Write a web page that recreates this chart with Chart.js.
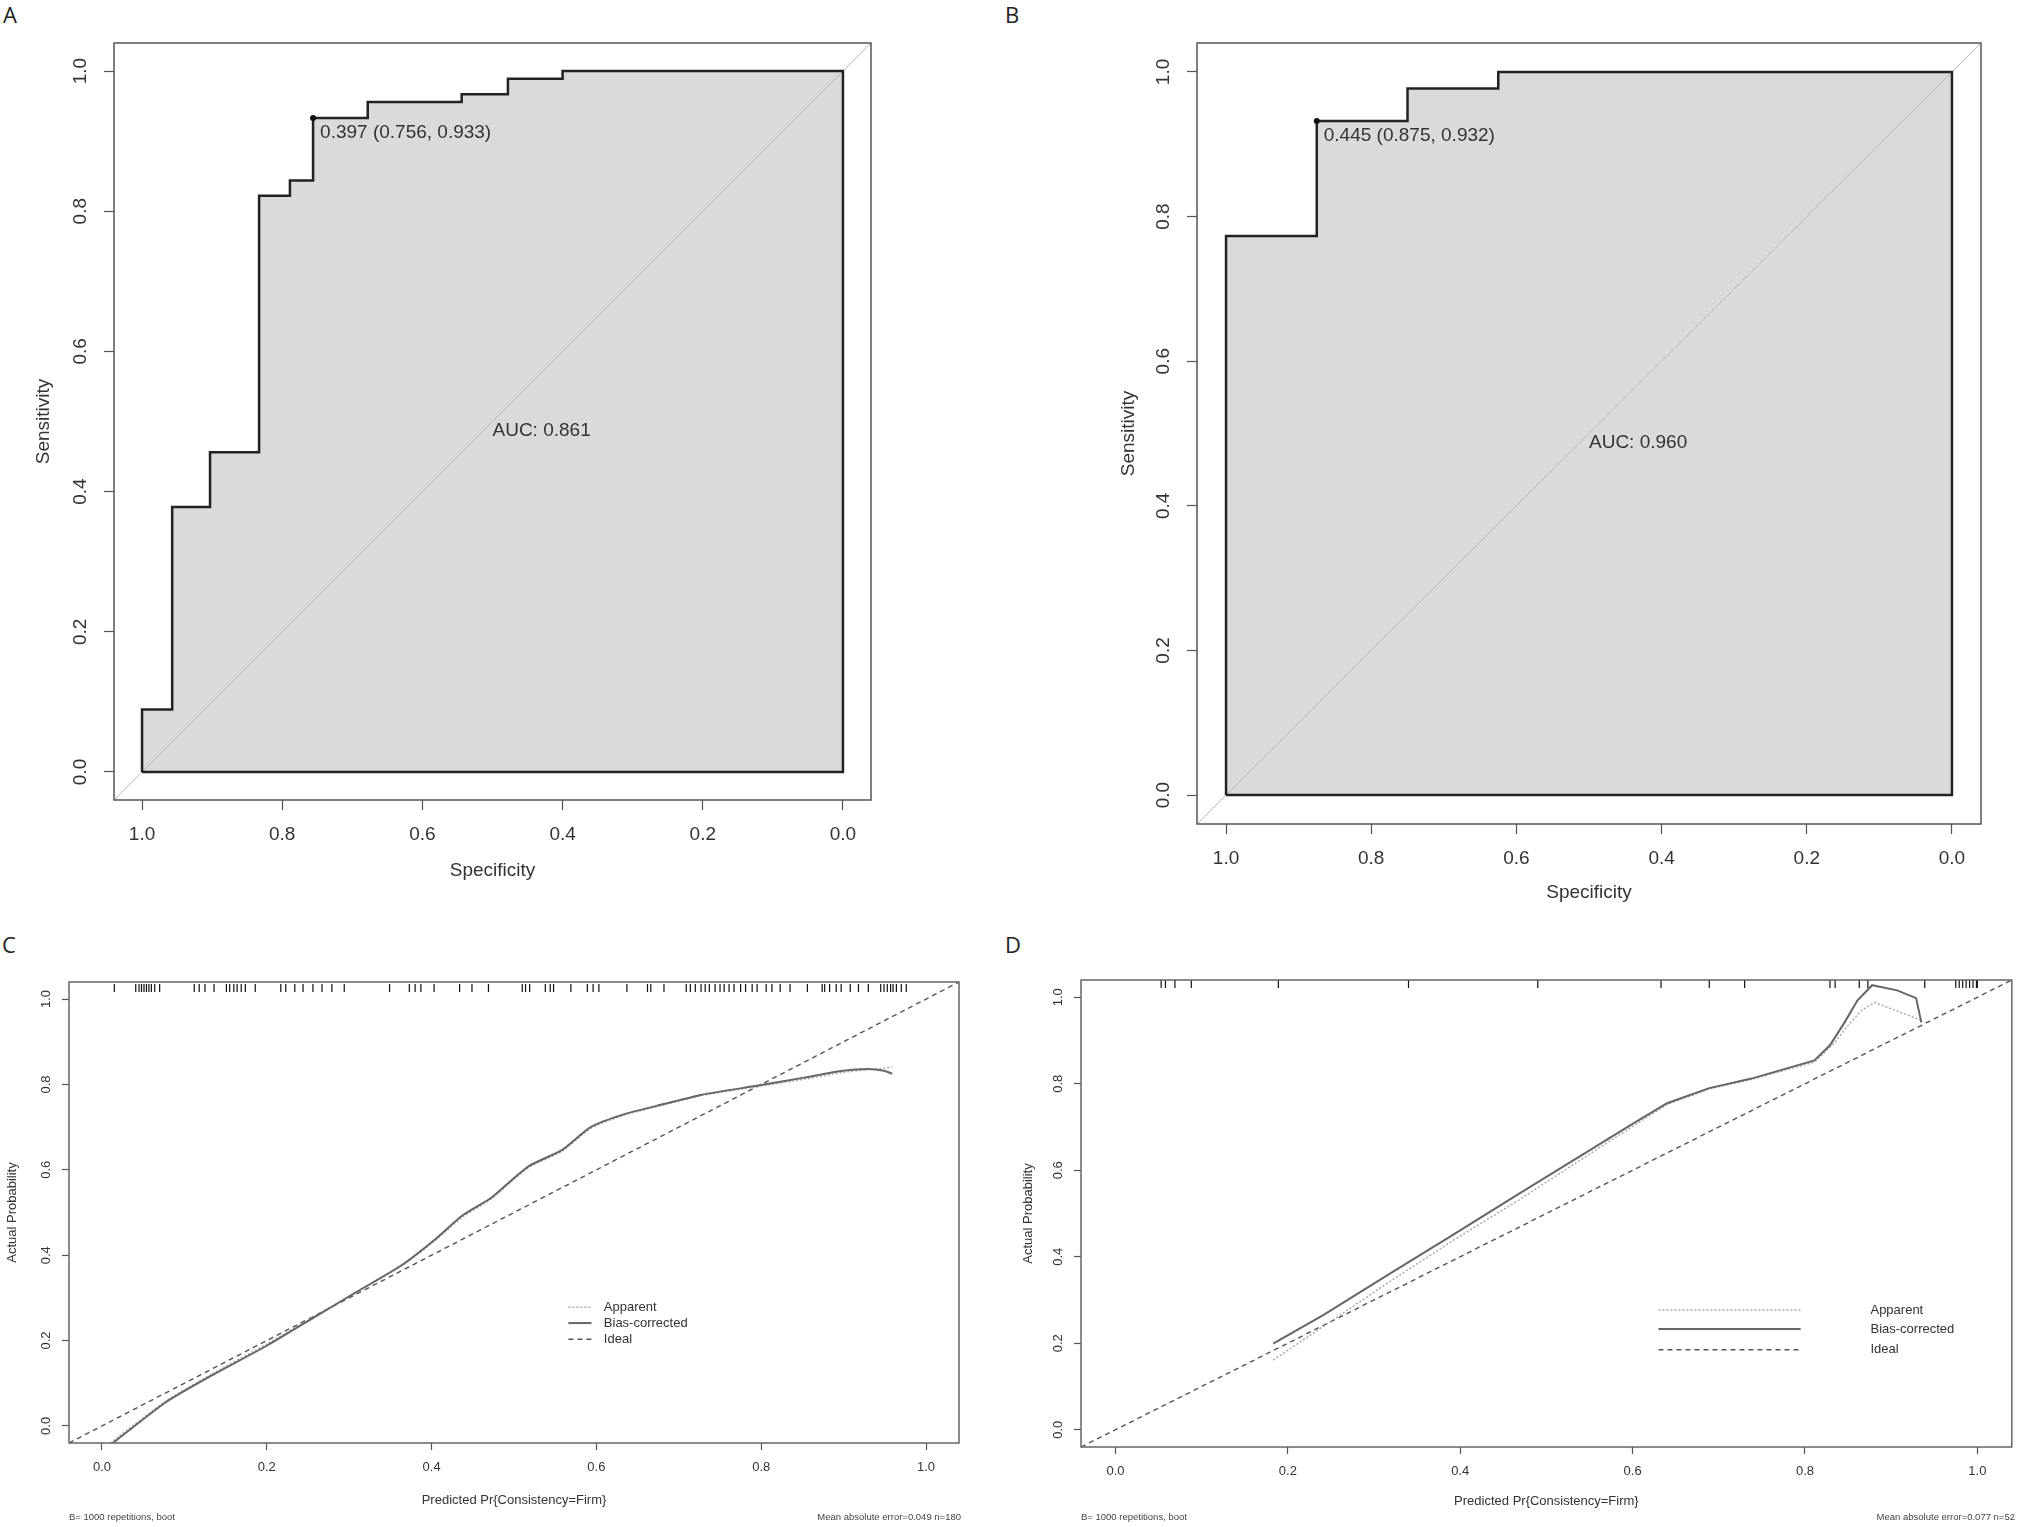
<!DOCTYPE html>
<html>
<head>
<meta charset="utf-8">
<script src="https://cdn.jsdelivr.net/npm/chart.js@4.4.1/dist/chart.umd.min.js"></script>
<style>
  body { margin: 0; background: #fff; width: 2017px; height: 1527px; position: relative; overflow: hidden;
         font-family: "Liberation Sans", Arial, sans-serif; }
  canvas { position: absolute; }
  .tag { position: absolute; font-family: "Open Sans", sans-serif; font-size: 22px; line-height: 1; color: #222; }
  .note { position: absolute; font-size: 9.5px; line-height: 12px; color: #444; white-space: nowrap; }
</style>
</head>
<body>
<div class="tag" style="left:3px;top:3px">A</div>
<div class="tag" style="left:1005px;top:3px">B</div>
<div class="tag" style="left:2px;top:933px">C</div>
<div class="tag" style="left:1005px;top:933px">D</div>

<canvas id="rocA" width="1000" height="920" style="left:0;top:0"></canvas>
<canvas id="rocB" width="1017" height="920" style="left:1000px;top:0"></canvas>
<canvas id="calC" width="1008" height="607" style="left:0;top:920px"></canvas>
<canvas id="calD" width="1009" height="607" style="left:1008px;top:920px"></canvas>

<div class="note" id="bootC" style="left:69px;top:1511px"></div>
<div class="note" id="maeC" style="right:1056px;top:1511px;text-align:right"></div>
<div class="note" id="bootD" style="left:1081px;top:1511px"></div>
<div class="note" id="maeD" style="right:2px;top:1511px;text-align:right"></div>

<script>
// axis ticks shared by all four panels
const axisTicks = [0, 0.2, 0.4, 0.6, 0.8, 1.0];
const axisLimits = [-0.04, 1.04];

// A: ROC curve (specificity, sensitivity)
const rocASpec = [1, 1, 0.957, 0.957, 0.903, 0.903, 0.833, 0.833, 0.789, 0.789, 0.756, 0.756, 0.678, 0.678, 0.544, 0.544, 0.478, 0.478, 0.4, 0.4, 0];
const rocASens = [0, 0.089, 0.089, 0.378, 0.378, 0.456, 0.456, 0.822, 0.822, 0.844, 0.844, 0.933, 0.933, 0.956, 0.956, 0.967, 0.967, 0.989, 0.989, 1, 1];
const thresholdA = [0.397, 0.756, 0.933];
const aucA = 0.861;

// B: ROC curve
const rocBSpec = [1, 1, 0.875, 0.875, 0.75, 0.75, 0.625, 0.625, 0];
const rocBSens = [0, 0.773, 0.773, 0.932, 0.932, 0.977, 0.977, 1, 1];
const thresholdB = [0.445, 0.875, 0.932];
const aucB = 0.960;

// C: calibration curves
const calCPred = [0.01, 0.077, 0.132, 0.201, 0.263, 0.31, 0.364, 0.403, 0.438, 0.472, 0.496, 0.519, 0.558, 0.593, 0.635, 0.682, 0.728, 0.798, 0.852, 0.899, 0.93, 0.949, 0.959];
const calCBias = [-0.045, 0.055, 0.117, 0.189, 0.261, 0.315, 0.377, 0.435, 0.494, 0.534, 0.574, 0.61, 0.646, 0.70, 0.731, 0.754, 0.776, 0.798, 0.816, 0.832, 0.836, 0.832, 0.825];
const calCApparent = [-0.04, 0.058, 0.12, 0.193, 0.262, 0.314, 0.375, 0.432, 0.49, 0.531, 0.571, 0.607, 0.643, 0.697, 0.729, 0.752, 0.774, 0.796, 0.812, 0.828, 0.835, 0.838, 0.841];
const rugC = [0.015, 0.041, 0.045, 0.048, 0.051, 0.054, 0.057, 0.06, 0.064, 0.07, 0.112, 0.118, 0.125, 0.136,
  0.151, 0.155, 0.16, 0.164, 0.169, 0.174, 0.186, 0.217, 0.223, 0.234, 0.244, 0.256, 0.267, 0.279, 0.294,
  0.349, 0.373, 0.38, 0.387, 0.403, 0.434, 0.449, 0.469, 0.51, 0.514, 0.519, 0.538, 0.544, 0.548, 0.569,
  0.589, 0.596, 0.603, 0.637, 0.662, 0.666, 0.682, 0.709, 0.714, 0.72, 0.727, 0.732, 0.737, 0.744, 0.75,
  0.755, 0.761, 0.767, 0.775, 0.781, 0.789, 0.795, 0.806, 0.813, 0.823, 0.835, 0.856, 0.874, 0.877, 0.883,
  0.891, 0.897, 0.908, 0.918, 0.93, 0.945, 0.949, 0.953, 0.957, 0.96, 0.964, 0.97, 0.976];
const maeC = [0.049, 180];

// D: calibration curves
const calDBiasPred = [0.183, 0.242, 0.317, 0.392, 0.467, 0.542, 0.599, 0.64, 0.689, 0.738, 0.811, 0.829, 0.846, 0.861, 0.878, 0.907, 0.929, 0.935];
const calDBias = [0.199, 0.266, 0.359, 0.451, 0.544, 0.636, 0.706, 0.755, 0.79, 0.812, 0.854, 0.889, 0.942, 0.993, 1.028, 1.016, 0.998, 0.942];
const calDAppPred = [0.183, 0.242, 0.317, 0.392, 0.467, 0.542, 0.599, 0.64, 0.689, 0.738, 0.811, 0.834, 0.85, 0.866, 0.881, 0.935];
const calDApparent = [0.161, 0.24, 0.341, 0.438, 0.53, 0.627, 0.70, 0.752, 0.788, 0.81, 0.85, 0.894, 0.935, 0.97, 0.988, 0.947];
const rugD = [0.053, 0.058, 0.069, 0.088, 0.189, 0.34, 0.49, 0.633, 0.689, 0.73, 0.829, 0.835, 0.863, 0.873, 0.939,
  0.975, 0.979, 0.983, 0.987, 0.991, 0.995, 0.999, 1.0];
const maeD = [0.077, 52];
const bootReps = 1000;

const legendLabels = ['Apparent', 'Bias-corrected', 'Ideal'];

const pts = (xs, ys) => xs.map((v, i) => ({ x: v, y: ys[i] }));
const FONT = '"Liberation Sans", Arial, sans-serif';

// box round the plot region, text notes and an R-style legend
const panelDecor = {
  id: 'panelDecor',
  afterDatasetsDraw(chart, args, opts) {
    const { ctx, chartArea: a, scales: { x, y } } = chart;
    ctx.save();
    ctx.strokeStyle = opts.boxColor;
    ctx.lineWidth = opts.boxWidth;
    ctx.strokeRect(a.left, a.top, a.width, a.height);
    ctx.fillStyle = '#333';
    ctx.textBaseline = 'middle';
    ctx.textAlign = 'left';
    (opts.notes || []).forEach(n => {
      ctx.font = n.font;
      ctx.fillText(n.text, x.getPixelForValue(n.at[0]) + n.dx, y.getPixelForValue(n.at[1]) + n.dy);
    });
    const L = opts.legend;
    if (L) {
      L.labels.forEach((lab, i) => {
        const ds = chart.data.datasets.find(d => d.label === lab);
        const yy = y.getPixelForValue(L.y[i]);
        ctx.strokeStyle = ds.borderColor;
        ctx.lineWidth = ds.borderWidth;
        ctx.setLineDash(ds.borderDash || []);
        ctx.beginPath();
        ctx.moveTo(x.getPixelForValue(L.x[0]), yy);
        ctx.lineTo(x.getPixelForValue(L.x[1]), yy);
        ctx.stroke();
        ctx.setLineDash([]);
        ctx.font = L.font;
        ctx.fillText(lab, x.getPixelForValue(L.x[2]), yy);
      });
    }
    ctx.restore();
  }
};

function axis(o) {
  return {
    type: 'linear',
    min: axisLimits[0],
    max: axisLimits[1],
    reverse: !!o.reverse,
    afterBuildTicks: s => { s.ticks = axisTicks.map(v => ({ value: v })); },
    afterFit: s => { if (s.isHorizontal()) s.height = o.size; else s.width = o.size; },
    grid: { drawOnChartArea: false, drawTicks: true, tickLength: o.tick, tickWidth: 1.2, tickColor: '#555' },
    border: { display: false },
    ticks: {
      padding: o.pad, minRotation: o.rot || 0, maxRotation: o.rot || 0, crossAlign: 'center',
      color: '#333', font: { size: o.font, family: FONT },
      callback: v => v.toFixed(1)
    },
    title: {
      display: true, text: o.title, color: '#333',
      font: { size: o.font, family: FONT }, padding: o.titlePad
    }
  };
}

function rocChart(id, spec, sens, thr, auc, lay) {
  const curve = pts(spec, sens);
  new Chart(document.getElementById(id), {
    type: 'line',
    data: {
      datasets: [
        { label: 'threshold', data: [{ x: thr[1], y: thr[2] }], showLine: false,
          pointRadius: 3, backgroundColor: '#111', borderColor: '#111', borderWidth: 0 },
        { label: 'ROC', data: curve.concat([{ x: 0, y: 0 }, { x: 1, y: 0 }]), fill: false,
          borderColor: '#222', borderWidth: 2.5, pointRadius: 0, tension: 0 },
        { label: 'identity', data: [{ x: axisLimits[1], y: axisLimits[0] }, { x: axisLimits[0], y: axisLimits[1] }],
          borderColor: '#b8b8b8', borderWidth: 1, pointRadius: 0, fill: false },
        { label: 'AUC area', data: curve, fill: 'origin', backgroundColor: '#dadada',
          borderColor: 'rgba(0,0,0,0)', borderWidth: 1, pointRadius: 0 }
      ]
    },
    options: {
      responsive: false, animation: false, events: [], devicePixelRatio: 1,
      layout: { padding: lay.padding },
      scales: {
        x: axis({ reverse: true, size: lay.xSize, tick: 10, pad: 25, font: 19, title: 'Specificity',
                  titlePad: { top: 0, bottom: lay.xTitle } }),
        y: axis({ size: lay.ySize, tick: 10, pad: 10.5, rot: 90, font: 19, title: 'Sensitivity',
                  titlePad: { top: lay.yTitle, bottom: 0 } })
      },
      plugins: {
        legend: { display: false }, tooltip: { enabled: false },
        panelDecor: {
          boxColor: '#555', boxWidth: 1.5,
          notes: [
            { text: thr[0].toFixed(3) + ' (' + thr[1].toFixed(3) + ', ' + thr[2].toFixed(3) + ')',
              at: [thr[1], thr[2]], dx: 7, dy: 15, font: '19px ' + FONT },
            { text: 'AUC: ' + auc.toFixed(3), at: [0.5, 0.5], dx: 0, dy: 9, font: '19px ' + FONT }
          ]
        }
      }
    },
    plugins: [panelDecor]
  });
}

function calChart(id, bias, apparent, rug, lay) {
  new Chart(document.getElementById(id), {
    type: 'line',
    data: {
      datasets: [
        { label: 'rug', data: rug.map(v => ({ x: v, y: lay.rugY })), showLine: false,
          pointStyle: 'line', rotation: 90, pointRadius: 4, borderColor: '#111', borderWidth: 1.2 },
        { label: 'Bias-corrected', data: bias, borderColor: '#666', borderWidth: 2, pointRadius: 0,
          fill: false, tension: lay.tension },
        { label: 'Apparent', data: apparent, borderColor: '#aaa', borderWidth: 1.5, borderDash: [2, 2],
          pointRadius: 0, fill: false, tension: lay.tension },
        { label: 'Ideal', data: [{ x: axisLimits[0], y: axisLimits[0] }, { x: axisLimits[1], y: axisLimits[1] }],
          borderColor: '#555', borderWidth: 1.4, borderDash: [5, 4], pointRadius: 0, fill: false }
      ]
    },
    options: {
      responsive: false, animation: false, events: [], devicePixelRatio: 1,
      layout: { padding: lay.padding },
      scales: {
        x: axis({ size: lay.xSize, tick: 7, pad: 17, font: 13, title: 'Predicted Pr{Consistency=Firm}',
                  titlePad: { top: 0, bottom: lay.xTitle } }),
        y: axis({ size: lay.ySize, tick: 7, pad: 7, rot: 90, font: 13, title: 'Actual Probability',
                  titlePad: { top: lay.yTitle, bottom: 0 } })
      },
      plugins: {
        legend: { display: false }, tooltip: { enabled: false },
        panelDecor: {
          boxColor: '#666', boxWidth: 1.5,
          legend: { labels: legendLabels, x: lay.legendX, y: lay.legendY, font: '13px ' + FONT }
        }
      }
    },
    plugins: [panelDecor]
  });
}

rocChart('rocA', rocASpec, rocASens, thresholdA, aucA,
  { padding: { left: 0, top: 43, right: 129, bottom: 0 }, xSize: 120, ySize: 114, xTitle: 38, yTitle: 32 });
rocChart('rocB', rocBSpec, rocBSens, thresholdB, aucB,
  { padding: { left: 0, top: 43, right: 36, bottom: 0 }, xSize: 96, ySize: 197, xTitle: 16, yTitle: 117 });

calChart('calC', pts(calCPred, calCBias), pts(calCPred, calCApparent), rugC,
  { padding: { left: 0, top: 62, right: 49, bottom: 0 }, xSize: 84, ySize: 69, xTitle: 19, yTitle: 5,
    tension: 0.2, rugY: 1.026, legendX: [0.566, 0.594, 0.609], legendY: [0.278, 0.241, 0.203] });
calChart('calD', pts(calDBiasPred, calDBias), pts(calDAppPred, calDApparent), rugD,
  { padding: { left: 0, top: 60, right: 2, bottom: 0 }, xSize: 80, ySize: 73, xTitle: 18, yTitle: 13,
    tension: 0, rugY: 1.031, legendX: [0.63, 0.795, 0.876], legendY: [0.277, 0.233, 0.185] });

document.getElementById('bootC').textContent = 'B= ' + bootReps + ' repetitions, boot';
document.getElementById('bootD').textContent = 'B= ' + bootReps + ' repetitions, boot';
document.getElementById('maeC').textContent = 'Mean absolute error=' + maeC[0].toFixed(3) + ' n=' + maeC[1];
document.getElementById('maeD').textContent = 'Mean absolute error=' + maeD[0].toFixed(3) + ' n=' + maeD[1];
</script>
</body>
</html>
